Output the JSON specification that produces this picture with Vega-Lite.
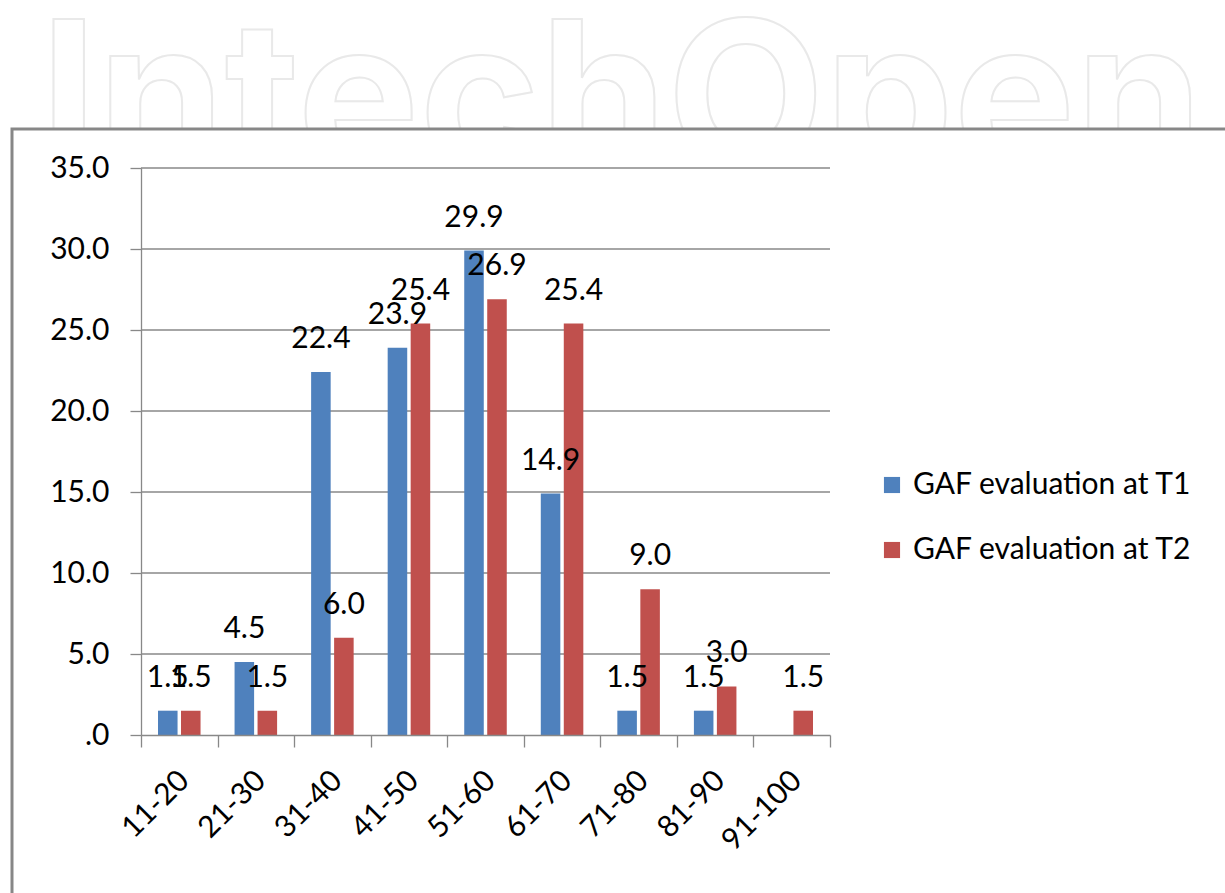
{
  "$schema": "https://vega.github.io/schema/vega-lite/v6.json",
  "autosize": "none",
  "width": 689,
  "height": 567,
  "padding": {"left": 141, "top": 168, "right": 395, "bottom": 158},
  "background": "white",
  "config": {
    "view": {"stroke": null},
    "font": "Lato",
    "axis": {"labelFont": "Lato", "labelFontSize": 30, "labelColor": "#000000", "domainColor": "#888888", "tickColor": "#888888", "domainWidth": 1.3, "tickWidth": 1.3}
  },
  "data": {
    "values": [
      {"range": "11-20", "series": "GAF evaluation at T1", "pct": 1.5},
      {"range": "11-20", "series": "GAF evaluation at T2", "pct": 1.5},
      {"range": "21-30", "series": "GAF evaluation at T1", "pct": 4.5},
      {"range": "21-30", "series": "GAF evaluation at T2", "pct": 1.5},
      {"range": "31-40", "series": "GAF evaluation at T1", "pct": 22.4},
      {"range": "31-40", "series": "GAF evaluation at T2", "pct": 6.0},
      {"range": "41-50", "series": "GAF evaluation at T1", "pct": 23.9},
      {"range": "41-50", "series": "GAF evaluation at T2", "pct": 25.4},
      {"range": "51-60", "series": "GAF evaluation at T1", "pct": 29.9},
      {"range": "51-60", "series": "GAF evaluation at T2", "pct": 26.9},
      {"range": "61-70", "series": "GAF evaluation at T1", "pct": 14.9},
      {"range": "61-70", "series": "GAF evaluation at T2", "pct": 25.4},
      {"range": "71-80", "series": "GAF evaluation at T1", "pct": 1.5},
      {"range": "71-80", "series": "GAF evaluation at T2", "pct": 9.0},
      {"range": "81-90", "series": "GAF evaluation at T1", "pct": 1.5},
      {"range": "81-90", "series": "GAF evaluation at T2", "pct": 3.0},
      {"range": "91-100", "series": "GAF evaluation at T2", "pct": 1.5}
    ]
  },
  "layer": [
    {
      "data": {"values": [{"label": "IntechOpen"}]},
      "mark": {"type": "text", "font": "Inter", "fontWeight": "bold", "fontSize": 204.5, "fill": "white", "stroke": "#e9e9e9", "strokeWidth": 2, "align": "left", "baseline": "alphabetic", "x": -101, "y": 0},
      "encoding": {"text": {"field": "label"}}
    },
    {
      "data": {"values": [{"box": "frame"}]},
      "mark": {"type": "rect", "fill": "white", "stroke": "#878787", "strokeWidth": 3, "x": -129, "y": -39, "x2": 1110, "y2": 760},
      "encoding": {}
    },
    {
      "data": {"values": [{"g": 5}, {"g": 10}, {"g": 15}, {"g": 20}, {"g": 25}, {"g": 30}, {"g": 35}]},
      "mark": {"type": "rule", "color": "#888888", "strokeWidth": 1.3},
      "encoding": {
        "y": {"field": "g", "type": "quantitative", "title": null, "scale": {"domain": [0, 35], "nice": false}}
      }
    },
    {
      "mark": {"type": "bar"},
      "encoding": {
        "x": {"field": "range", "type": "nominal", "sort": null, "title": null, "scale": {"paddingInner": 0, "paddingOuter": 0},
          "axis": {"title": null, "labelAngle": -45, "tickBand": "extent", "tickSize": 12, "labelPadding": 18, "labelOffset": -6, "grid": false, "zindex": 1}},
        "xOffset": {"field": "series", "type": "nominal", "scale": {"paddingInner": 0.15, "paddingOuter": 0.74}},
        "y": {"field": "pct", "type": "quantitative", "title": null, "scale": {"domain": [0, 35], "nice": false},
          "axis": {"title": null, "values": [0, 5, 10, 15, 20, 25, 30, 35], "grid": false, "tickSize": 11, "labelPadding": 21, "zindex": 1,
            "labelExpr": "datum.value == 0 ? '.0' : format(datum.value, '.1f')"}},
        "color": {"field": "series", "type": "nominal",
          "scale": {"domain": ["GAF evaluation at T1", "GAF evaluation at T2"], "range": ["#4F81BD", "#C0504D"]},
          "legend": {"title": null, "orient": "none", "legendX": 736, "legendY": 302, "symbolType": "square", "symbolSize": 260, "symbolStrokeWidth": 0, "labelFont": "Lato", "labelFontSize": 30, "labelColor": "#000000", "labelOffset": 6, "labelLimit": 0, "rowPadding": 35}}
      }
    },
    {
      "mark": {"type": "text", "font": "Lato", "fontSize": 30, "color": "#000000", "baseline": "alphabetic", "dy": -24},
      "encoding": {
        "x": {"field": "range", "type": "nominal", "sort": null},
        "xOffset": {"field": "series", "type": "nominal"},
        "y": {"field": "pct", "type": "quantitative"},
        "text": {"field": "pct", "type": "quantitative", "format": ".1f"}
      }
    }
  ]
}
